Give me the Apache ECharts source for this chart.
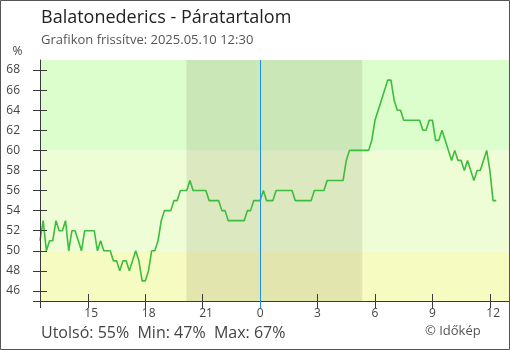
<!DOCTYPE html>
<html>
<head>
<meta charset="utf-8">
<script src="https://cdn.jsdelivr.net/npm/echarts@6/dist/echarts.min.js"></script>
<style>
  html, body { margin: 0; padding: 0; background: #fff; }
  #chart { width: 510px; height: 350px; }
</style>
</head>
<body>
<div id="chart"></div>
<script>
// Relative humidity (%), one reading every 10 minutes, starting 12:30 on the previous day
const startTime = '12:30';
const stepMinutes = 10;
const humidity = [
  51, 53, 50, 51, 51, 53, 52, 52, 53, 50, 52, 52, 51, 50, 52, 52, 52, 52,
  50, 51, 50, 50, 50, 49, 49, 48, 49, 49, 48, 49, 50, 49, 47, 47, 48, 50,
  50, 51, 53, 54, 54, 54, 55, 55, 56, 56, 56, 57, 56, 56, 56, 56, 56, 55,
  55, 55, 55, 54, 54, 53, 53, 53, 53, 53, 53, 54, 54, 55, 55, 55, 56, 55,
  55, 55, 56, 56, 56, 56, 56, 56, 55, 55, 55, 55, 55, 55, 56, 56, 56, 56,
  57, 57, 57, 57, 57, 57, 59, 60, 60, 60, 60, 60, 60, 60, 61, 63, 64, 65,
  66, 67, 67, 65, 64, 64, 63, 63, 63, 63, 63, 63, 62, 62, 63, 63, 61, 61,
  62, 61, 60, 59, 60, 59, 59, 58, 59, 58, 57, 58, 58, 59, 60, 58, 55, 55
];

// Hour ticks on the time axis (hour of day)
const hourTicks = [15, 18, 21, 0, 3, 6, 9, 12];
// Percentage ticks on the value axis
const percentTicks = [46, 48, 50, 52, 54, 56, 58, 60, 62, 64, 66, 68];
// Humidity zones shaded behind the curve
const zoneLimits = [45, 50, 60, 69];
// Darkness between sunset and sunrise
const sunset = '20:09';
const sunrise = '05:20';

const titleText = 'Balatonederics - Páratartalom';
const updatedText = 'Grafikon frissítve: 2025.05.10 12:30';

// Time of day -> hours relative to midnight (afternoon/evening belongs to the previous day)
function relHours(hhmm) {
  const [h, m] = hhmm.split(':').map(Number);
  const v = h + m / 60;
  return v >= 12.5 ? v - 24 : v;
}
const t0 = relHours(startTime);
const points = humidity.map((v, i) => [t0 + i * stepMinutes / 60, v]);
const xMin = t0;
const xMax = 13;
const tickPos = hourTicks.map(h => (h >= 12.5 ? h - 24 : h));

const last = humidity[humidity.length - 1];
const minV = Math.min(...humidity);
const maxV = Math.max(...humidity);

const FONT = '"Open Sans", "Noto Sans", sans-serif';
const gridLeft = 40, gridRight = 1, gridTop = 60, gridBottom = 49;
const pxPerHour = (510 - gridLeft - gridRight) / (xMax - xMin);

const zoneColors = ['#f6fbc2', '#effdd6', '#dcfdcc'];
const zoneAreas = zoneColors.map((c, i) => [
  { yAxis: zoneLimits[i], itemStyle: { color: c } },
  { yAxis: zoneLimits[i + 1] }
]);
zoneAreas.push([
  { xAxis: relHours(sunset), itemStyle: { color: 'rgba(60,60,20,0.11)' } },
  { xAxis: relHours(sunrise) }
]);

const axisColor = '#3a3a3a';
const chart = echarts.init(document.getElementById('chart'), null, { renderer: 'canvas' });

chart.setOption({
  animation: false,
  backgroundColor: '#fff',
  grid: { left: gridLeft, right: gridRight, top: gridTop, bottom: gridBottom, containLabel: false },
  xAxis: [
    {
      type: 'value', min: xMin, max: xMax, position: 'bottom', z: 10,
      axisLine: { onZero: false, lineStyle: { color: axisColor, width: 1 } },
      axisTick: { show: true, inside: false, length: 7,
        customValues: [xMin].concat(tickPos.filter(h => h !== 0)),
        lineStyle: { color: axisColor } },
      axisLabel: {
        customValues: tickPos.map(h => h - 3.5 / pxPerHour),
        align: 'left', margin: 7,
        fontFamily: FONT, fontSize: 12, color: '#444',
        formatter: v => String((Math.round(v) + 24) % 24)
      },
      splitLine: { show: false }
    },
    {
      type: 'value', min: xMin, max: xMax, position: 'bottom', z: 10,
      axisLine: { show: false, onZero: false },
      axisTick: { show: true, inside: true, length: 7,
        customValues: tickPos.filter(h => h !== 0),
        lineStyle: { color: axisColor } },
      axisLabel: { show: false },
      splitLine: { show: false }
    },
    {
      type: 'value', min: xMin, max: xMax, position: 'bottom', z: 11,
      axisLine: { show: false, onZero: false },
      axisTick: { show: true, inside: false, length: 7, customValues: [0],
        lineStyle: { color: '#1e8fef' } },
      axisLabel: { show: false },
      splitLine: { show: false }
    }
  ],
  yAxis: [
    {
      type: 'value', min: zoneLimits[0], max: zoneLimits[zoneLimits.length - 1], position: 'left', z: 10,
      axisLine: { onZero: false, lineStyle: { color: axisColor, width: 1 } },
      axisTick: { show: true, inside: false, length: 7,
        customValues: [zoneLimits[0]].concat(percentTicks),
        lineStyle: { color: axisColor } },
      axisLabel: { customValues: percentTicks, margin: 20,
        fontFamily: FONT, fontSize: 12, color: '#444' },
      splitLine: { show: false }
    },
    {
      type: 'value', min: zoneLimits[0], max: zoneLimits[zoneLimits.length - 1], position: 'left', z: 10,
      axisLine: { show: false, onZero: false },
      axisTick: { show: true, inside: true, length: 7, customValues: percentTicks,
        lineStyle: { color: axisColor } },
      axisLabel: { show: false },
      splitLine: { show: false }
    }
  ],
  series: [
    {
      name: 'zones', type: 'line', data: [], z: 1, silent: true,
      markArea: { silent: true, data: zoneAreas }
    },
    {
      name: 'Páratartalom', type: 'line', data: points, z: 3,
      showSymbol: false, symbol: 'none', smooth: false,
      lineStyle: { color: '#3cbd3c', width: 1.6 }
    },
    {
      name: 'midnight', type: 'line', data: [], z: 4, silent: true,
      markLine: {
        silent: true, symbol: 'none', label: { show: false },
        lineStyle: { color: '#1e8fef', width: 1, type: 'solid' },
        data: [{ xAxis: 0 }]
      }
    }
  ],
  graphic: [
    { type: 'rect', silent: true, z: 100,
      shape: { x: 0.5, y: 0.5, width: 509, height: 349 },
      style: { fill: 'none', stroke: '#555', lineWidth: 1 } },
    { type: 'text', x: 41, y: 17.5, style: { text: titleText, font: '18px ' + FONT,
      fill: '#222', verticalAlign: 'middle', align: 'left' } },
    { type: 'text', x: 41, y: 40.5, style: { text: updatedText, font: '13px ' + FONT,
      fill: '#555', verticalAlign: 'middle', align: 'left' } },
    { type: 'text', x: 17.5, y: 51.5, style: { text: '%', font: '12px ' + FONT,
      fill: '#444', verticalAlign: 'middle', align: 'center' } },
    { type: 'text', x: 41, y: 333.5, style: {
      text: 'Utolsó: ' + last + '%  Min: ' + minV + '%  Max: ' + maxV + '%',
      font: '16px ' + FONT, fill: '#444', verticalAlign: 'middle', align: 'left' } },
    { type: 'text', x: 425, y: 331.5, style: { text: '© Időkép', font: '13px ' + FONT,
      fill: '#555', verticalAlign: 'middle', align: 'left' } }
  ]
});
</script>
</body>
</html>
